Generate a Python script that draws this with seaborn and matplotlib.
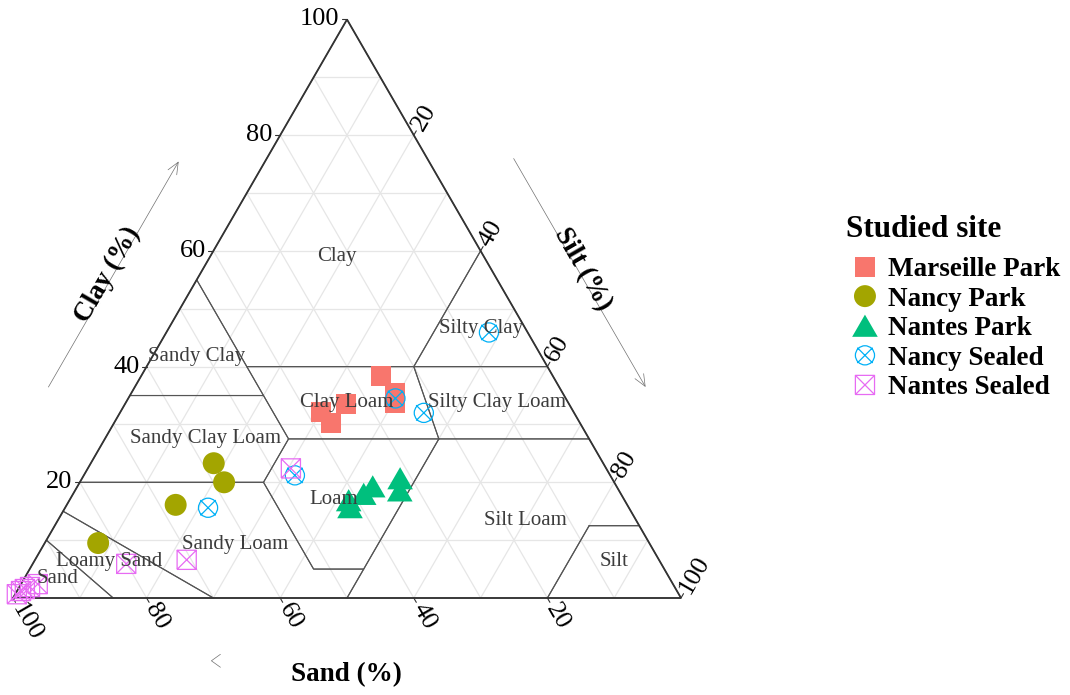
import numpy as np
import pandas as pd
import matplotlib
matplotlib.use("Agg")
import matplotlib.pyplot as plt
from matplotlib.path import Path
import seaborn as sns

H = np.sqrt(3) / 2

# Soil samples per studied site, in % (sand, silt, clay)
marseille_sand = [25.8, 25.0, 26.0, 33.4, 37.8, 37.3]
marseille_silt = [35.9, 39.5, 40.3, 33.1, 30.1, 32.5]
marseille_clay = [38.3, 35.5, 33.7, 33.5, 32.1, 30.2]

nancy_park_sand = [58.3, 58.4, 67.6, 82.5]
nancy_park_silt = [18.4, 21.6, 16.3, 8.0]
nancy_park_clay = [23.3, 20.0, 16.1, 9.5]

nantes_park_sand = [41.3, 41.7, 38.5, 36.5, 31.7, 32.8]
nantes_park_silt = [41.8, 42.6, 43.5, 44.2, 47.6, 48.6]
nantes_park_clay = [16.9, 15.7, 18.0, 19.3, 20.7, 18.6]

nancy_sealed_sand = [5.8, 25.5, 22.5, 47.2, 63.0]
nancy_sealed_silt = [48.3, 40.0, 45.5, 31.6, 21.4]
nancy_sealed_clay = [45.9, 34.5, 32.0, 21.2, 15.6]

nantes_sealed_sand = [47.2, 70.7, 80.1, 95.1, 96.5, 97.45, 98.2, 99.1]
nantes_sealed_silt = [30.4, 22.7, 14.0, 2.5, 1.6, 1.0, 0.6, 0.25]
nantes_sealed_clay = [22.4, 6.6, 5.9, 2.4, 1.9, 1.55, 1.2, 0.65]

sites = ["Marseille Park", "Nancy Park", "Nantes Park", "Nancy Sealed", "Nantes Sealed"]
site_colors = ["#F8766D", "#A3A500", "#00BF7D", "#00B0F6", "#E76BF3"]

# USDA texture classes, vertices as (clay, sand, silt) in %
usda_names = ["Clay", "Sandy Clay", "Silty Clay", "Sandy Clay Loam", "Clay Loam",
              "Silty Clay Loam", "Loam", "Sandy Loam", "Loamy Sand", "Sand",
              "Silt Loam", "Silt"]
usda_vertices = [
    [(100, 0, 0), (55, 45, 0), (40, 45, 15), (40, 20, 40), (60, 0, 40)],
    [(55, 45, 0), (35, 65, 0), (35, 45, 20)],
    [(60, 0, 40), (40, 20, 40), (40, 0, 60)],
    [(35, 65, 0), (20, 80, 0), (20, 52.5, 27.5), (27.5, 45, 27.5), (35, 45, 20)],
    [(40, 45, 15), (27.5, 45, 27.5), (27.5, 22.5, 50), (40, 20, 40)],
    [(40, 20, 40), (27.5, 22.5, 50), (27.5, 0, 72.5), (40, 0, 60)],
    [(27.5, 45, 27.5), (20, 52.5, 27.5), (5, 52.5, 42.5), (5, 45, 50), (27.5, 22.5, 50)],
    [(20, 80, 0), (15, 85, 0), (0, 70, 30), (0, 50, 50), (5, 45, 50), (5, 52.5, 42.5), (20, 52.5, 27.5)],
    [(15, 85, 0), (10, 90, 0), (0, 85, 15), (0, 70, 30)],
    [(10, 90, 0), (0, 100, 0), (0, 85, 15)],
    [(27.5, 22.5, 50), (0, 50, 50), (0, 20, 80), (12.5, 7.5, 80), (12.5, 0, 87.5), (27.5, 0, 72.5)],
    [(12.5, 7.5, 80), (0, 20, 80), (0, 0, 100), (12.5, 0, 87.5)],
]

ticks = [20, 40, 60, 80, 100]


def tern(silt, clay):
    silt = np.asarray(silt, dtype=float)
    clay = np.asarray(clay, dtype=float)
    return (silt + clay / 2) / 100, clay / 100 * H


frames = []
for name, sand, silt, clay in [
    ("Marseille Park", marseille_sand, marseille_silt, marseille_clay),
    ("Nancy Park", nancy_park_sand, nancy_park_silt, nancy_park_clay),
    ("Nantes Park", nantes_park_sand, nantes_park_silt, nantes_park_clay),
    ("Nancy Sealed", nancy_sealed_sand, nancy_sealed_silt, nancy_sealed_clay),
    ("Nantes Sealed", nantes_sealed_sand, nantes_sealed_silt, nantes_sealed_clay),
]:
    frames.append(pd.DataFrame({"site": name, "sand": sand, "silt": silt, "clay": clay}))
df = pd.concat(frames, ignore_index=True)
df["x"], df["y"] = tern(df["silt"], df["clay"])

# custom open markers: circle with cross, square with cross
k = 0.8
cross = Path([[-k, -k], [k, k], [-k, k], [k, -k]],
             [Path.MOVETO, Path.LINETO, Path.MOVETO, Path.LINETO])
circle_x = Path.make_compound_path(Path.unit_circle(), cross)
square_x = Path([[-1, -1], [1, -1], [1, 1], [-1, 1], [-1, -1],
                 [-1, -1], [1, 1], [-1, 1], [1, -1]],
                [Path.MOVETO, Path.LINETO, Path.LINETO, Path.LINETO, Path.LINETO,
                 Path.MOVETO, Path.LINETO, Path.MOVETO, Path.LINETO])
triangle = Path([[0, 1], [-1.1547, -1], [1.1547, -1], [0, 1]],
                [Path.MOVETO, Path.LINETO, Path.LINETO, Path.CLOSEPOLY])

marker_styles = {
    "Marseille Park": dict(marker="s", s=207, linewidth=0),
    "Nancy Park": dict(marker="o", s=250, linewidth=0),
    "Nantes Park": dict(marker=triangle, s=340, linewidth=0),
    "Nancy Sealed": dict(marker=circle_x, s=190, facecolor="none", linewidth=0.9),
    "Nantes Sealed": dict(marker=square_x, s=190, facecolor="none", linewidth=0.9),
}

sns.set_theme(style="white")
plt.rcParams["font.family"] = ["Liberation Serif", "DejaVu Serif"]
plt.rcParams["text.color"] = "black"

fig = plt.figure(figsize=(10.7, 6.95), dpi=100)
ax = fig.add_axes([0, 0, 1, 1])

# grid every 10 %
grid_kw = dict(color="#E6E6E6", lw=0.9, zorder=1)
for v in np.arange(10, 100, 10):
    c = v / 100
    ax.plot([c / 2, 1 - c / 2], [c * H, c * H], **grid_kw)                    # clay
    ax.plot([1 - c, (1 - c) / 2], [0, (1 - c) * H], **grid_kw)                # sand
    ax.plot([c, c + (1 - c) / 2], [0, (1 - c) * H], **grid_kw)                # silt

# texture classes
for name, verts in zip(usda_names, usda_vertices):
    clay = [p[0] for p in verts] + [verts[0][0]]
    silt = [p[2] for p in verts] + [verts[0][2]]
    px, py = tern(silt, clay)
    ax.plot(px, py, color="#555555", lw=0.8, zorder=2)
    lx, ly = tern(np.mean(silt[:-1]), np.mean(clay[:-1]))
    ax.text(lx, ly, name, ha="center", va="center", fontsize=15, color="#3C3C3C", zorder=6)

# triangle border
ax.plot([0, 1, 0.5, 0], [0, 0, H, 0], color="#333333", lw=1.3, zorder=3,
        solid_joinstyle="miter")

# points
for name, color in zip(sites, site_colors):
    st = dict(marker_styles[name])
    if st.get("facecolor") == "none":
        st["edgecolor"] = color
    else:
        st["edgecolor"] = "none"
    sns.scatterplot(data=df[df["site"] == name], x="x", y="y", color=color,
                    label=name, legend=False, ax=ax, zorder=4, **st)

# ticks and tick labels
tl = 0.0075
tick_kw = dict(color="#333333", lw=0.8, zorder=3)
for t in ticks:
    # clay (left edge)
    x0, y0 = tern(0, t)
    ax.plot([x0, x0 - tl], [y0, y0], **tick_kw)
    ax.text(x0 - 0.011, y0, str(t), ha="right", va="center", fontsize=19)
    # sand (bottom edge)
    x0, y0 = tern(100 - t, 0)
    dx, dy = 0.5, -H
    ax.plot([x0, x0 + tl * dx], [y0, y0 + tl * dy], **tick_kw)
    ax.text(x0 + 0.012 * dx, y0 + 0.012 * dy, str(t), ha="left", va="center",
            rotation=-60, rotation_mode="anchor", fontsize=19)
    # silt (right edge)
    x0, y0 = tern(t, 100 - t)
    dx, dy = 0.5, H
    ax.plot([x0, x0 + tl * dx], [y0, y0 + tl * dy], **tick_kw)
    ax.text(x0 + 0.011 * dx, y0 + 0.011 * dy, str(t), ha="left", va="center",
            rotation=60, rotation_mode="anchor", fontsize=19)

# axis titles and arrows
arrow_kw = dict(arrowstyle="->,head_length=0.7,head_width=0.3", color="#707070",
                lw=0.5, shrinkA=0, shrinkB=0)
d_arrow, d_title = 0.112, 0.119
nl = np.array([-H, 0.5])
nr = np.array([H, 0.5])
edge_l = lambda t: np.array([t / 2, t * H])
edge_r = lambda s: np.array([0.5 + s / 2, (1 - s) * H])

ax.annotate("", xy=edge_l(0.69) + d_arrow * nl, xytext=edge_l(0.30) + d_arrow * nl,
            arrowprops=arrow_kw)
ax.annotate("", xy=edge_r(0.70) + d_arrow * nr, xytext=edge_r(0.305) + d_arrow * nr,
            arrowprops=arrow_kw)
tip = np.array([0.297, -0.094])
ax.plot([tip[0] + 0.0135, tip[0], tip[0] + 0.0135],
        [tip[1] + 0.0097, tip[1], tip[1] - 0.0097], color="#707070", lw=0.5)

title_kw = dict(ha="center", va="center", fontsize=19.5, fontweight="bold")
p = edge_l(0.49) + d_title * nl
ax.text(p[0], p[1], "Clay (%)", rotation=60, **title_kw)
p = edge_r(0.50) + d_title * nr
ax.text(p[0], p[1], "Silt (%)", rotation=-60, **title_kw)
ax.text(0.4985, -0.1153, "Sand (%)", **title_kw)

ax.set_xlim(-13 / 668, 1057 / 668)
ax.set_ylim(-97 / 668, 598 / 668)
ax.axis("off")

# legend
fig.text(846 / 1070, 1 - 230 / 695, "Studied site", ha="left", va="center",
         fontsize=22.5, fontweight="bold")
handles, labels = ax.get_legend_handles_labels()
fig.legend(handles, labels, loc="upper left", bbox_to_anchor=(846 / 1070, 1 - 257 / 695),
           frameon=False, prop={"weight": "bold", "size": 19.5}, handlelength=1.4,
           handletextpad=0.16, labelspacing=0.17, borderpad=0, borderaxespad=0,
           scatteryoffsets=[0.5], labelcolor="black")

fig.savefig("out.png", dpi=100)
